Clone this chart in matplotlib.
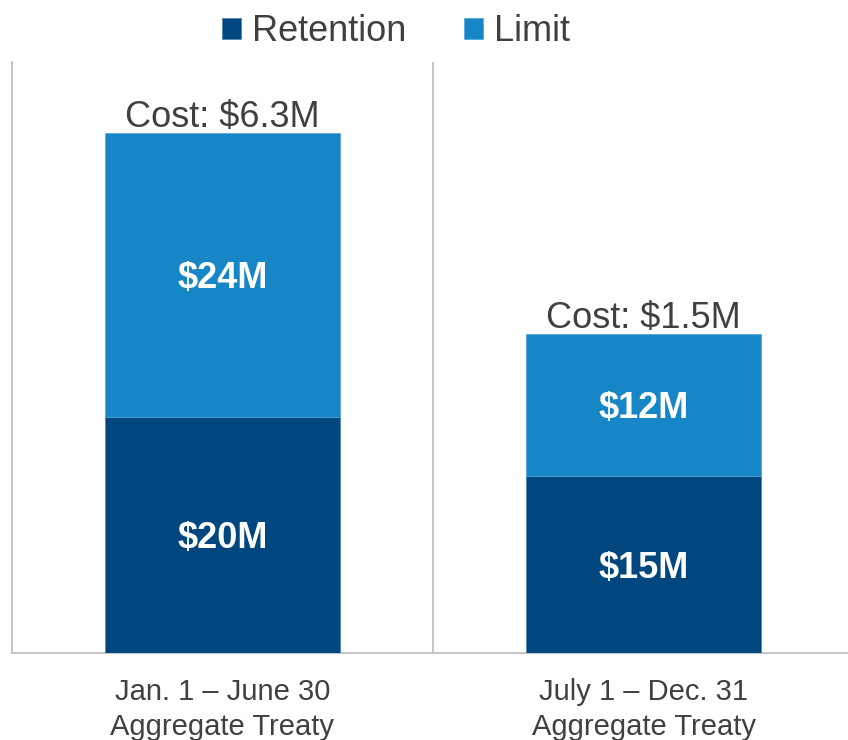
import matplotlib.pyplot as plt
import numpy as np

plt.rcParams['font.family'] = ['Liberation Sans', 'DejaVu Sans']

categories = ["Jan. 1 \u2013 June 30\nAggregate Treaty", "July 1 \u2013 Dec. 31\nAggregate Treaty"]
retention = [20, 15]
limit = [24, 12]
retention_labels = ["$20M", "$15M"]
limit_labels = ["$24M", "$12M"]
cost_labels = ["Cost: $6.3M", "Cost: $1.5M"]

c_ret = "#00467F"
c_lim = "#1786C6"
grey = "#BFBFBF"
txt = "#404040"

fig = plt.figure(figsize=(8.48, 7.4), dpi=100)
ax = fig.add_axes([12 / 848, 87 / 740, 842 / 848, 591 / 740])

x = np.arange(len(categories))
w = 0.558
b1 = ax.bar(x, retention, w, color=c_ret, edgecolor="#4A7FB0", linewidth=0.5, label="Retention", zorder=3)
b2 = ax.bar(x, limit, w, bottom=retention, color=c_lim, edgecolor="#4FA3D6", linewidth=0.5, label="Limit", zorder=3)

for i in range(len(categories)):
    ax.text(x[i], retention[i] / 2, retention_labels[i], ha="center", va="center_baseline",
            color="white", fontsize=26, fontweight="bold", zorder=4)
    ax.text(x[i], retention[i] + limit[i] / 2, limit_labels[i], ha="center", va="center_baseline",
            color="white", fontsize=26, fontweight="bold", zorder=4)
    ax.annotate(cost_labels[i], (x[i], retention[i] + limit[i]), xytext=(0, 4),
                textcoords="offset points", ha="center", va="baseline",
                color=txt, fontsize=26, zorder=4)

ax.set_xlim(-0.5, len(categories) - 0.5)
ax.set_ylim(0, 50)

# separators between the categories
for s in np.arange(0.5, len(categories) - 0.5):
    ax.axvline(s, color=grey, linewidth=1.3, zorder=1)

for sp in ["top", "right"]:
    ax.spines[sp].set_visible(False)
for sp in ["left", "bottom"]:
    ax.spines[sp].set_color(grey)
    ax.spines[sp].set_linewidth(1.3)

ax.set_yticks([])
ax.set_xticks(x)
ax.set_xticklabels(categories, fontsize=21, color=txt, linespacing=1.3)
ax.tick_params(axis="x", length=0, pad=18)

leg = fig.legend(handles=[b1, b2], loc="upper center", bbox_to_anchor=(396 / 848, 1.025),
                 ncol=2, frameon=False, fontsize=26, handlelength=0.52, handleheight=0.52,
                 handletextpad=0.3, columnspacing=1.6, labelcolor=txt)

plt.savefig("out.png", dpi=100)
